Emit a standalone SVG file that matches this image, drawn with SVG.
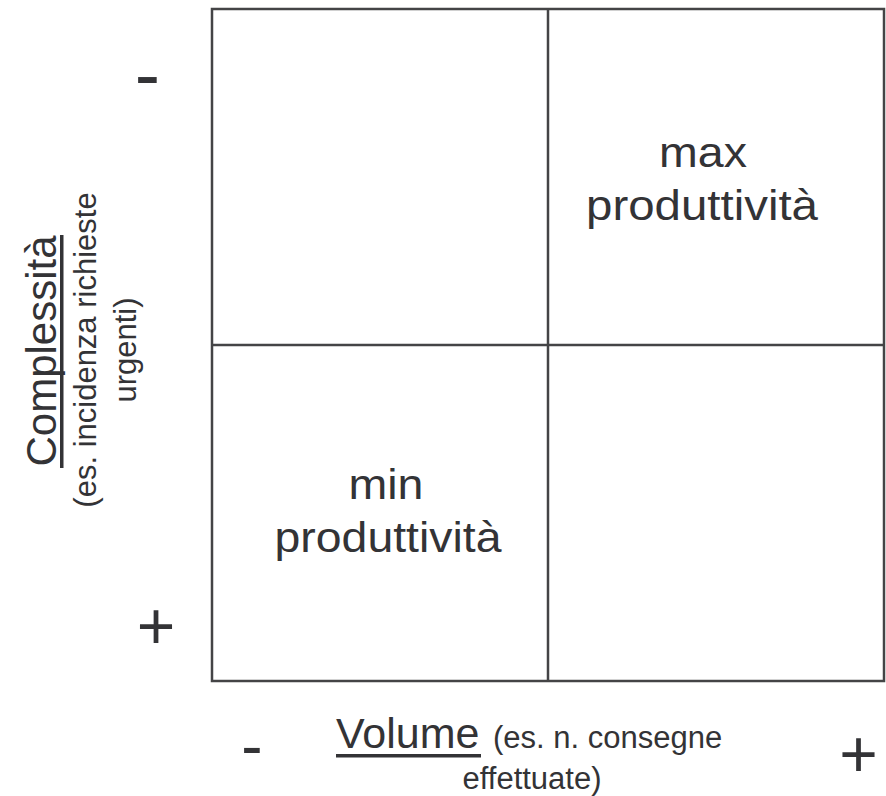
<svg xmlns="http://www.w3.org/2000/svg" width="886" height="796" viewBox="0 0 886 796">
  <style>
    .t { font-family: "Liberation Sans", Arial, Helvetica, sans-serif; fill: #333336; }
    .big { font-size: 42px; }
    .mid { font-size: 43px; }
    .small { font-size: 31px; }
    .grid { fill: none; stroke: #444446; stroke-width: 2.5; }
    .ul { fill: #333336; }
  </style>
  <rect width="886" height="796" fill="#ffffff"/>

  <g id="matrix">
    <rect class="grid" x="212" y="9" width="672" height="672"/>
    <line class="grid" x1="548" y1="9" x2="548" y2="681"/>
    <line class="grid" x1="212" y1="345" x2="884" y2="345"/>
  </g>

  <g id="q-max">
    <text class="t big" x="703" y="167" text-anchor="middle" textLength="88" lengthAdjust="spacingAndGlyphs">max</text>
    <text class="t big" x="702" y="220" text-anchor="middle" textLength="232" lengthAdjust="spacingAndGlyphs">produttività</text>
  </g>

  <g id="q-min">
    <text class="t big" x="386" y="499" text-anchor="middle" textLength="75" lengthAdjust="spacingAndGlyphs">min</text>
    <text class="t big" x="388" y="552" text-anchor="middle" textLength="227" lengthAdjust="spacingAndGlyphs">produttività</text>
  </g>

  <g id="y-axis-label">
    <text class="t big" transform="translate(56,351) rotate(-90)" text-anchor="middle">Complessità</text>
    <rect class="ul" x="60" y="235" width="3.5" height="233"/>
    <text class="t small" transform="translate(96,350) rotate(-90)" text-anchor="middle">(es. incidenza richieste</text>
    <text class="t small" transform="translate(136,350) rotate(-90)" text-anchor="middle">urgenti)</text>
  </g>

  <g id="y-minus">
    <text class="t" x="147.5" y="100" text-anchor="middle" font-size="76">-</text>
  </g>
  <g id="y-plus">
    <text class="t" x="156" y="649" text-anchor="middle" font-size="66">+</text>
  </g>

  <g id="x-axis-label">
    <text class="t mid" x="336" y="748">Volume</text>
    <rect class="ul" x="336" y="754" width="145" height="3.5"/>
    <text class="t small" x="493" y="748">(es. n. consegne</text>
    <text class="t small" x="532" y="789" text-anchor="middle">effettuate)</text>
  </g>

  <g id="x-minus">
    <text class="t" x="252" y="768" text-anchor="middle" font-size="64">-</text>
  </g>
  <g id="x-plus">
    <text class="t" x="858.5" y="777" text-anchor="middle" font-size="66">+</text>
  </g>
</svg>
